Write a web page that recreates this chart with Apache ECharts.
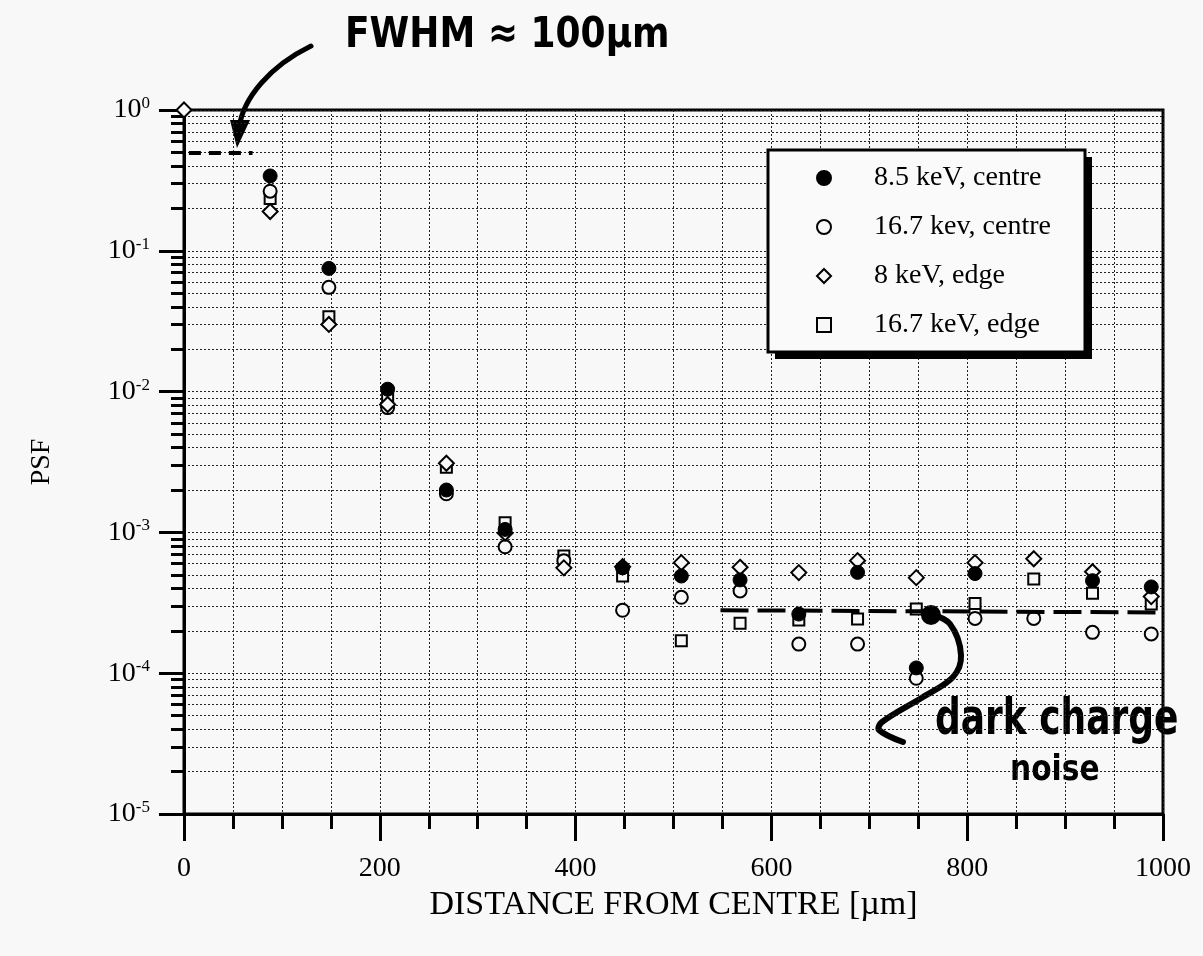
<!DOCTYPE html>
<html>
<head>
<meta charset="utf-8">
<script src="https://cdn.jsdelivr.net/npm/echarts@6/dist/echarts.min.js"></script>
<style>
  html, body { margin: 0; padding: 0; background: #f8f8f8; }
  #psf { width: 1203px; height: 956px; }
</style>
</head>
<body>
<div id="psf"></div>
<script>
// distance from centre [um] of each measured pixel column
var distance = [88, 148, 208, 268, 328, 388, 448, 508, 568, 628, 688, 748, 808, 868, 928, 988];

// PSF values (null = point not visible)
var centre85 = [0.34, 0.075, 0.0104, 0.0020, 0.00105, null, 0.00056, 0.00049, 0.00046, 0.000263, 0.00052, 0.000109, 0.00051, null, 0.000454, 0.00041];
var centre167 = [0.265, 0.055, 0.0077, 0.00188, 0.00079, 0.00063, 0.00028, 0.000346, 0.000384, 0.000161, 0.000161, 0.000092, 0.000245, 0.000245, 0.000195, 0.00019];
var edge8 = [0.19, 0.030, 0.0081, 0.0031, 0.00099, 0.00056, 0.00057, 0.00061, 0.000565, 0.000518, 0.00063, 0.000477, 0.00061, 0.00065, 0.000526, 0.00035];
var edge167 = [0.235, 0.034, 0.0091, 0.0029, 0.00117, 0.00068, 0.00049, 0.00017, 0.000226, 0.000239, 0.000243, 0.000286, 0.000313, 0.000467, 0.000369, 0.00031];

// the peak point at x = 0
var peak = [0, 1];

// hand drawn reference levels
var halfMax = { from: 5, to: 70, level: 0.5 };
var noiseLevel = { from: 548, to: 997, start: 0.00028, end: 0.00027 };

function pairs(vals) {
    var out = [];
    for (var i = 0; i < vals.length; i++) {
        if (vals[i] != null) out.push([distance[i], vals[i]]);
    }
    return out;
}

var serif = '"Liberation Serif", "Times New Roman", serif';
var paper = '#f8f8f8';
var dotted = { color: '#222', width: 1, type: [2, 2] };

var edge8Data = [peak].concat(pairs(edge8));

var option = {
    backgroundColor: paper,
    animation: false,
    grid: {
        left: 184, right: 40, top: 110, bottom: 142,
        show: true, borderColor: '#000', borderWidth: 3
    },
    legend: {
        orient: 'vertical',
        left: 768, top: 150,
        padding: [14, 20, 14, 48],
        itemWidth: 14, itemHeight: 14,
        itemGap: 21,
        textStyle: { fontFamily: serif, fontSize: 28, color: '#000', padding: [0, 0, 0, 38] },
        z: 10,
        data: ['8.5 keV, centre', '16.7 kev, centre', '8 keV, edge', '16.7 keV, edge']
    },
    xAxis: {
        type: 'value',
        min: 0, max: 1000, interval: 200,
        name: 'DISTANCE FROM CENTRE [µm]',
        nameLocation: 'middle', nameGap: 73,
        nameTextStyle: { fontFamily: serif, fontSize: 34, color: '#000' },
        axisLine: { lineStyle: { color: '#000', width: 3 } },
        axisTick: { show: true, inside: false, length: 27, lineStyle: { color: '#000', width: 3 } },
        minorTick: { show: true, splitNumber: 4, length: 15, lineStyle: { color: '#000', width: 3 } },
        axisLabel: {
            fontFamily: serif, fontSize: 28, color: '#000', margin: 41,
            formatter: function (v) { return String(v); }
        },
        splitLine: { show: true, lineStyle: dotted },
        minorSplitLine: { show: true, lineStyle: dotted }
    },
    yAxis: {
        type: 'log', logBase: 10,
        min: 1e-5, max: 1,
        name: 'PSF',
        nameLocation: 'middle', nameGap: 128,
        nameTextStyle: { fontFamily: serif, fontSize: 28, color: '#000' },
        axisLine: { lineStyle: { color: '#000', width: 3 } },
        axisTick: { show: true, inside: false, length: 25, lineStyle: { color: '#000', width: 3 } },
        minorTick: { show: true, splitNumber: 9, length: 13, lineStyle: { color: '#000', width: 3 } },
        axisLabel: {
            margin: 34,
            fontFamily: serif, fontSize: 28, color: '#000',
            formatter: function (v) {
                var e = Math.round(Math.log(v) / Math.LN10);
                return '10{s|' + e + '}';
            },
            rich: { s: { fontFamily: serif, fontSize: 17, color: '#000', padding: [0, 0, 13, 0] } }
        },
        splitLine: { show: true, lineStyle: dotted },
        minorSplitLine: { show: true, lineStyle: dotted }
    },
    series: [
        {
            name: '16.7 keV, edge', type: 'scatter', symbol: 'rect', symbolSize: 11,
            itemStyle: { color: paper, borderColor: '#000', borderWidth: 2, opacity: 1 },
            data: pairs(edge167)
        },
        {
            name: '16.7 kev, centre', type: 'scatter', symbol: 'circle', symbolSize: 13,
            itemStyle: { color: paper, borderColor: '#000', borderWidth: 2, opacity: 1 },
            data: pairs(centre167)
        },
        {
            name: '8 keV, edge', type: 'scatter', symbol: 'diamond', symbolSize: 15,
            itemStyle: { color: paper, borderColor: '#000', borderWidth: 2, opacity: 1 },
            data: edge8Data
        },
        {
            name: '8.5 keV, centre', type: 'scatter', symbol: 'circle', symbolSize: 14,
            itemStyle: { color: '#000', borderColor: '#000', borderWidth: 1, opacity: 1 },
            data: pairs(centre85),
            markLine: {
                silent: true, symbol: 'none', label: { show: false },
                lineStyle: { color: '#000', width: 4, type: [12, 8], opacity: 1 },
                data: [
                    [{ coord: [halfMax.from, halfMax.level] }, { coord: [halfMax.to, halfMax.level] }],
                    [{ coord: [noiseLevel.from, noiseLevel.start], lineStyle: { width: 4, type: [28, 9] } },
                     { coord: [noiseLevel.to, noiseLevel.end] }]
                ]
            }
        }
    ],
    graphic: [
        // legend frame with its drop shadow
        { type: 'rect', z: 5, shape: { x: 775, y: 157, width: 317, height: 202 }, style: { fill: '#000' } },
        { type: 'rect', z: 6, shape: { x: 768, y: 150, width: 317, height: 202 }, style: { fill: '#fafafa', stroke: '#000', lineWidth: 3 } },
        // FWHM note and arrow
        { type: 'text', x: 345, y: 14, scaleY: 1.2, style: { text: 'FWHM ≈ 100µm', font: 'bold 36px "DejaVu Sans"', fill: '#000' } },
        {
            type: 'bezierCurve',
            shape: { x1: 311, y1: 46, cpx1: 270, cpy1: 66, cpx2: 243, cpy2: 98, x2: 239, y2: 128 },
            style: { stroke: '#000', lineWidth: 5, fill: null, lineCap: 'round' }
        },
        { type: 'polygon', shape: { points: [[230, 120], [250, 120], [237, 148]] }, style: { fill: '#000' } },
        // dark charge note and pointer
        {
            type: 'polyline',
            shape: { points: [[930, 614], [950, 624], [961, 655], [953, 677], [923, 697], [882, 722], [879, 730], [903, 742]], smooth: 0.35 },
            style: { stroke: '#000', lineWidth: 6, fill: null, lineCap: 'round', lineJoin: 'round' }
        },
        { type: 'circle', shape: { cx: 931, cy: 615, r: 10 }, style: { fill: '#000' } },
        { type: 'text', x: 935, y: 696, scaleY: 1.25, style: { text: 'dark charge', font: 'bold 40px "DejaVu Sans Condensed"', fill: '#000' } },
        { type: 'text', x: 1010, y: 754, scaleY: 1.05, style: { text: 'noise', font: 'bold 33px "DejaVu Sans Condensed"', fill: '#000' } }
    ]
};

var chart = echarts.init(document.getElementById('psf'));
chart.setOption(option);
</script>
</body>
</html>
